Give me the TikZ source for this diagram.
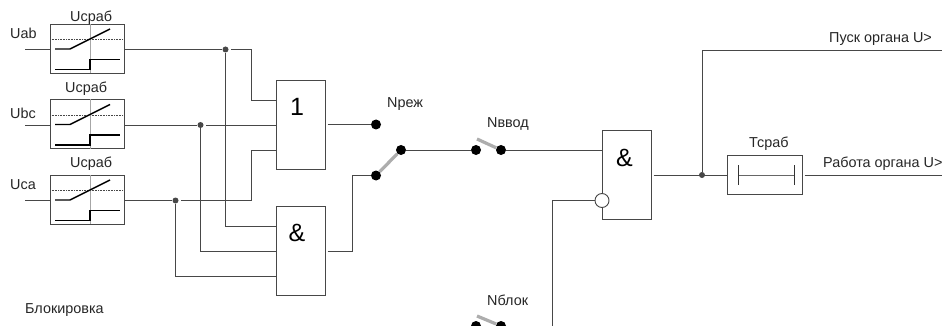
\documentclass[tikz,border=0pt]{standalone}
\usepackage{fontspec}
\setmainfont{Liberation Sans}
\begin{document}
\begin{tikzpicture}[x=1pt,y=-1pt,
  wire/.style={draw=black!72,line width=0.9pt},
  boxs/.style={draw=black!72,line width=0.9pt,fill=white,inner sep=0pt,outer sep=0pt},
  relay/.style={boxs,minimum width=74pt,minimum height=49pt},
  logic/.style={boxs,minimum width=49pt,minimum height=89pt},
  timer/.style={boxs,minimum width=75pt,minimum height=39pt},
  lbl/.style={font=\fontsize{14.4}{16}\selectfont,inner sep=0pt,text=black!85,anchor=west},
  sym/.style={font=\fontsize{25}{28}\selectfont,inner sep=0pt,text=black},
  junct/.style={circle,fill=black!72,inner sep=0pt,minimum size=6pt},
  term/.style={circle,fill=black,inner sep=0pt,minimum size=10pt},
  blade/.style={draw=black!32,line width=3.2pt},
  thickcurve/.style={draw=black,line width=1.4pt},
  owire/.style={wire,shorten <=2.5pt}]
\useasboundingbox (0,0) rectangle (942,326);
\clip (0,0) rectangle (942,326);
\fill[white] (0,0) rectangle (942,326);

% relays
\foreach \n/\y in {a/24,b/99.5,c/175}{
  \node[relay,anchor=north west] (r\n) at (50,\y) {};
  \draw[black!72,line width=0.6pt,densely dotted] (50,\y+15.5) -- (124,\y+15.5);
  \draw[black!35,line width=0.9pt] (90,\y) -- (90,\y+49);
  \draw[thickcurve] (55,\y+25) -- (70,\y+25) -- (110,\y+5);
  \draw[thickcurve] (55,\y+45.5) -- (90,\y+45.5) -- (90,\y+35.5) -- (120,\y+35.5);
}
\node[lbl] (ts1) at (70,18) {Uсраб};
\node[lbl] (ts2) at (65,89) {Uсраб};
\node[lbl] (ts3) at (70,164) {Uсраб};
\node[lbl] (la) at (10,33) {Uab};
\node[lbl] (lb) at (10,113) {Ubc};
\node[lbl] (lc) at (10,185) {Uca};
\coordinate (ia) at (25,49.5);
\coordinate (ib) at (25,125);
\coordinate (ic) at (25,200.5);
\draw[wire] (ia) -- (ia -| ra.west);
\draw[wire] (ib) -- (ib -| rb.west);
\draw[wire] (ic) -- (ic -| rc.west);

% logic elements
\node[logic,anchor=north west] (or) at (276,80) {};
\node[logic,anchor=north west] (and) at (276,206) {};
\node[logic,anchor=north west] (and2) at (602,130) {};
\node[sym] (s1) at (297,107) {1};
\node[sym] (s2) at (297,233) {\&};
\node[sym] (s3) at (624.5,158) {\&};

% junctions
\node[junct] (ja) at (225.5,49.5) {};
\node[junct] (jb) at (200.5,125) {};
\node[junct] (jc) at (175.5,200.5) {};

% inputs of the logic elements
\coordinate (k1) at (251,49.5);
\coordinate (k3) at (251,200.5);
\coordinate (ora) at (276,100);
\coordinate (orc) at (276,150.5);
\coordinate (anda) at (276,226);
\coordinate (andb) at (276,251);
\coordinate (andc) at (276,276.5);
\draw[owire] (ia -| ra.east) -- (ja) -- (k1) |- (ora);
\draw[owire] (ib -| rb.east) -- (jb) -- (ib -| or.west);
\draw[owire] (ic -| rc.east) -- (jc) -- (k3) |- (orc);
\draw[wire] (ja) |- (anda);
\draw[wire] (jb) |- (andb);
\draw[wire] (jc) |- (andc);

% mode switch
\node[term] (nr) at (376,124.5) {};
\node[term] (sw1) at (376,175.5) {};
\node[term] (sw2) at (401,150) {};
\coordinate (aout) at (325,251);
\coordinate (k4) at (352,251);
\draw[owire] (or.east |- nr) -- (nr);
\draw[owire] (aout) -- (k4) |- (sw1);
\draw[blade] (sw1) -- (sw2);
\node[lbl] (lnr) at (387,104) {Nреж};

% input switch
\node[term] (nv1) at (476,150) {};
\node[term] (nv2) at (501,150) {};
\coordinate (nvb) at (477,139);
\draw[wire] (sw2) -- (nv1);
\draw[wire] (nv2) -- (nv2 -| and2.west);
\draw[blade] (nvb) -- (nv2);
\node[lbl] (lnv) at (487,124) {Nввод};

% blocking switch
\node[term] (nb1) at (476,326) {};
\node[term] (nb2) at (501,326) {};
\coordinate (nbb) at (477,316);
\draw[blade] (nbb) -- (nb2);
\node[lbl] (lnb) at (487,300) {Nблок};
\node[lbl] (lbk) at (25,310) {Блокировка};

% inverted input
\node[circle,draw=black!72,line width=0.9pt,fill=white,inner sep=0pt,minimum size=14pt] (inv) at (602,200.5) {};
\coordinate (k5) at (552,200.5);
\coordinate (bl) at (552,326);
\draw[wire] (inv) -- (k5) -- (bl);

% output
\node[timer,anchor=north west] (tm) at (727,155.5) {};
\node[junct] (jo) at (702,175) {};
\coordinate (e1) at (942,50);
\coordinate (e2) at (942,175);
\draw[owire] (and2.east |- tm.west) -- (tm.west);
\draw[wire] (jo) |- (e1);
\draw[owire] (tm.east) -- (e2);
\draw[black!80,line width=0.7pt] (738.5,165) -- (738.5,185);
\draw[black!80,line width=0.7pt] (794,165) -- (794,185);
\draw[black!60,line width=0.9pt] (738.5,175) -- (794,175);
\node[lbl] (ltm) at (749,144) {Тсраб};
\node[lbl] (lp) at (829,39) {Пуск органа U>};
\node[lbl] (lw) at (823,164) {Работа органа U>};
\end{tikzpicture}
\end{document}
